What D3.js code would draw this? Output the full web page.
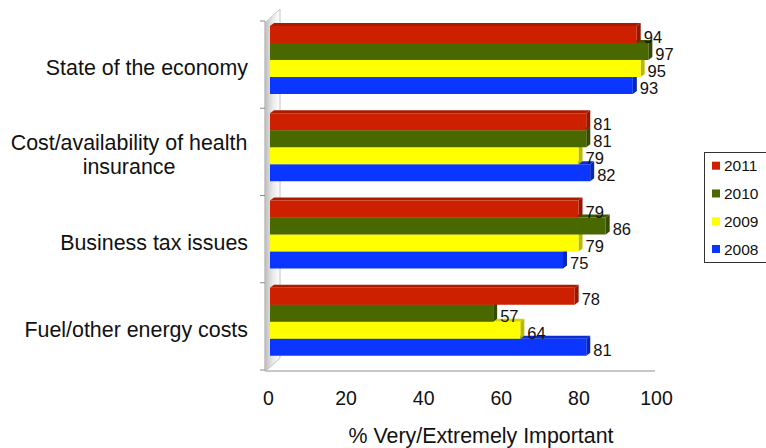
<!DOCTYPE html>
<html>
<head>
<meta charset="utf-8">
<script src="https://cdn.jsdelivr.net/npm/d3@7"></script>
<style>
  html, body { margin: 0; padding: 0; background: #fff; }
  svg { display: block; font-family: "Liberation Sans", Arial, Helvetica, sans-serif; }
</style>
</head>
<body>
<svg id="chart" width="766" height="448"></svg>
<script>
// Survey issues, share rating each as very/extremely important
const categories = [
  ["State of the economy"],
  ["Cost/availability of health", "insurance"],
  ["Business tax issues"],
  ["Fuel/other energy costs"]
];
const years = ["2011", "2010", "2009", "2008"];
const values2011 = [94, 81, 79, 78];
const values2010 = [97, 81, 86, 57];
const values2009 = [95, 79, 79, 64];
const values2008 = [93, 82, 75, 81];
const seriesValues = [values2011, values2010, values2009, values2008];
const seriesColors = ["#cc2000", "#4a6800", "#ffff00", "#0b36ff"];
const xTicks = [0, 20, 40, 60, 80, 100];
const axisTitle = "% Very/Extremely Important";

const svg = d3.select("#chart");
const catKeys = categories.map(c => c.join(" "));

const x = d3.scaleLinear().domain([0, 100]).range([272, 660]);
const y = d3.scaleBand().domain(catKeys).range([21, 370]).paddingInner(0).paddingOuter(0);
const ySub = d3.scaleBand().domain(years).range([5, 73]);

const depthX = 4, depthY = -3;
const wallFront = 266, wallBack = 280, floorY = 371;

// gradient for the side wall
const defs = svg.append("defs");
const wg = defs.append("linearGradient").attr("id", "wallGrad")
  .attr("x1", "0").attr("x2", "1").attr("y1", "0").attr("y2", "0");
wg.append("stop").attr("offset", "0").attr("stop-color", "#c4c4c4");
wg.append("stop").attr("offset", "0.5").attr("stop-color", "#eaeaea");
wg.append("stop").attr("offset", "1").attr("stop-color", "#ffffff");

// side wall
svg.append("path")
  .attr("d", `M${wallFront},${y.range()[0] + 1} L${wallBack},9 L${wallBack},${floorY - 13} L${wallFront},${floorY} Z`)
  .attr("fill", "url(#wallGrad)")
  .attr("stroke", "#c4c4c4")
  .attr("stroke-width", 1);

// floor edge
svg.append("line")
  .attr("x1", wallFront - 1).attr("x2", 655)
  .attr("y1", floorY).attr("y2", floorY)
  .attr("stroke", "#c8c8c8").attr("stroke-width", 2);

// category axis with tick marks at band boundaries
const boundaries = catKeys.map(k => y(k)).concat([y.range()[1]]);
svg.append("line")
  .attr("x1", wallFront - 1).attr("x2", wallFront - 1)
  .attr("y1", boundaries[0]).attr("y2", floorY)
  .attr("stroke", "#9a9a9a").attr("stroke-width", 1);
svg.append("g").selectAll("line").data(boundaries).join("line")
  .attr("x1", wallFront - 6).attr("x2", wallFront - 1)
  .attr("y1", d => d).attr("y2", d => d)
  .attr("stroke", "#8a8a8a").attr("stroke-width", 1);

// bars, drawn bottom series first so upper bars overlap lower top faces
const barData = [];
categories.forEach((cat, ci) => {
  years.forEach((yr, si) => {
    barData.push({ cat: catKeys[ci], year: yr, si, v: seriesValues[si][ci] });
  });
});
barData.sort((a, b) => b.si - a.si);

const bars = svg.append("g").selectAll("g").data(barData).join("g");
bars.each(function(d) {
  const g = d3.select(this);
  const x0 = x(0) - 2, x1 = x(d.v);
  const y0 = y(d.cat) + ySub(d.year), h = ySub.bandwidth();
  const base = d3.color(seriesColors[d.si]);
  // top face
  g.append("path")
    .attr("d", `M${x0},${y0} L${x0 + depthX},${y0 + depthY} L${x1 + depthX},${y0 + depthY} L${x1},${y0} Z`)
    .attr("fill", base.darker(0.5));
  // right side face
  g.append("path")
    .attr("d", `M${x1},${y0} L${x1 + depthX},${y0 + depthY} L${x1 + depthX},${y0 + h + depthY} L${x1},${y0 + h} Z`)
    .attr("fill", base.darker(0.9));
  // front face
  g.append("rect")
    .attr("x", x0).attr("y", y0)
    .attr("width", x1 - x0).attr("height", h)
    .attr("fill", base);
});

// value labels
svg.append("g").selectAll("text").data(barData).join("text")
  .attr("x", d => x(d.v) + 7)
  .attr("y", d => y(d.cat) + ySub(d.year) + ySub.bandwidth() / 2 + 8.5)
  .attr("font-size", 16.5)
  .attr("fill", "#111")
  .text(d => d.v);

// value axis labels
const xAxis = d3.axisBottom(x).tickValues(xTicks).tickSize(0).tickPadding(0);
const xg = svg.append("g").attr("transform", `translate(-4, 405)`).call(xAxis);
xg.select(".domain").remove();
xg.selectAll("text")
  .attr("dy", 0)
  .attr("font-size", 19.5)
  .attr("font-family", "\"Liberation Sans\", Arial, sans-serif")
  .attr("fill", "#111");

// value axis title
svg.append("text")
  .attr("x", 481).attr("y", 443)
  .attr("text-anchor", "middle")
  .attr("font-size", 21.4)
  .attr("fill", "#111")
  .text(axisTitle);

// category labels
const catG = svg.append("g").selectAll("text").data(categories).join("text")
  .attr("font-size", 21.4)
  .attr("fill", "#111");
catG.each(function(lines, i) {
  const t = d3.select(this);
  const cy = y(catKeys[i]) + y.bandwidth() / 2;
  if (lines.length === 1) {
    t.attr("x", 248).attr("y", cy + 10.5).attr("text-anchor", "end").text(lines[0]);
  } else {
    t.attr("text-anchor", "middle");
    lines.forEach((ln, j) => {
      t.append("tspan").attr("x", 129)
        .attr("y", cy - 0.5 + (j - (lines.length - 1) / 2) * 24 + 10.5)
        .text(ln);
    });
  }
});

// legend
const lg = svg.append("g");
lg.append("rect")
  .attr("x", 704.5).attr("y", 152.5).attr("width", 70).attr("height", 110)
  .attr("fill", "#fff").attr("stroke", "#333").attr("stroke-width", 1);
const ly = d3.scalePoint().domain(years).range([165.7, 249]);
const items = lg.selectAll("g.item").data(years).join("g").attr("class", "item");
items.append("rect")
  .attr("x", 712).attr("y", d => ly(d) - 4)
  .attr("width", 8).attr("height", 8)
  .attr("fill", (d, i) => seriesColors[i]);
items.append("text")
  .attr("x", 724).attr("y", d => ly(d) + 5.5)
  .attr("font-size", 15.5)
  .attr("fill", "#111")
  .text(d => d);
</script>
</body>
</html>
